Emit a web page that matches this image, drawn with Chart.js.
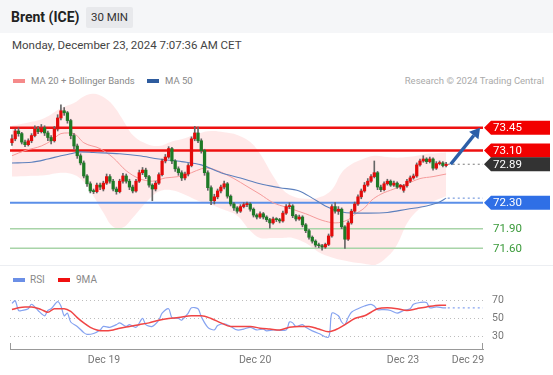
<!DOCTYPE html>
<html>
<head>
<meta charset="utf-8">
<script src="https://cdn.jsdelivr.net/npm/chart.js@4.4.1/dist/chart.umd.min.js"></script>
<style>
body{margin:0;background:#fff;font-family:Roboto,Arial,sans-serif;}
#card{position:relative;width:553px;height:375px;overflow:hidden;background:#fff;}
#head{position:absolute;left:0;top:0;width:553px;height:33px;background:#f5f6f8;}
.t{position:absolute;white-space:nowrap;}
.sw{position:absolute;width:12px;height:4px;}
#sep{position:absolute;left:0;top:265px;width:553px;height:1px;background:#eceef2;}
#main{position:absolute;left:0;top:90px;}
#rsi{position:absolute;left:0;top:265px;}
</style>
</head>
<body>
<div id="card">
  <div id="head"></div>
  <div class="t" style="left:11px;top:9px;font-size:14px;line-height:17px;font-weight:bold;color:#222;">Brent (ICE)</div>
  <div class="t" style="left:86px;top:7px;width:47px;height:21px;line-height:21px;text-align:center;background:#e8e9ec;font-size:11.5px;color:#333;border-radius:2px;">30 MIN</div>
  <div class="t" style="left:12px;top:38px;font-size:11.5px;line-height:14px;color:#444;">Monday, December 23, 2024 7:07:36 AM CET</div>

  <div class="sw" style="left:13px;top:79px;background:#f58a8a;"></div>
  <div class="t" style="left:31px;top:75px;font-size:9.5px;line-height:12px;color:#888;">MA 20 + Bollinger Bands</div>
  <div class="sw" style="left:147px;top:79px;background:#2e5c9e;"></div>
  <div class="t" style="left:165px;top:75px;font-size:9.5px;line-height:12px;color:#888;">MA 50</div>
  <div class="t" style="right:9px;top:75px;font-size:9.5px;line-height:12px;color:#aaa;">Research © 2024 Trading Central</div>

  <div id="sep"></div>
  <div class="sw" style="left:13px;top:278px;background:#6b8fe6;"></div>
  <div class="t" style="left:30px;top:274px;font-size:10px;line-height:12px;color:#888;">RSI</div>
  <div class="sw" style="left:58px;top:278px;background:#f01010;"></div>
  <div class="t" style="left:76px;top:274px;font-size:10px;line-height:12px;color:#888;">9MA</div>

  <canvas id="main" width="553" height="175"></canvas>
  <canvas id="rsi" width="553" height="110"></canvas>
</div>
<script>
// 30 min candles, Dec 18 -> Dec 23
const opens = [
  73.22,73.28,73.40,73.36,73.23,73.19,73.25,73.33,73.43,73.39,
  73.45,73.37,73.30,73.25,73.43,73.60,73.71,73.68,73.56,73.33,
  73.17,73.02,72.91,72.71,72.59,72.48,72.47,72.57,72.51,72.60,
  72.70,72.63,72.51,72.47,72.63,72.71,72.63,72.54,72.48,72.63,
  72.76,72.80,72.70,72.57,72.51,72.60,72.73,72.94,73.00,73.13,
  72.94,72.82,72.76,72.68,72.74,72.87,73.28,73.37,73.25,73.10,
  72.76,72.53,72.33,72.39,72.48,72.54,72.59,72.40,72.28,72.22,
  72.17,72.24,72.27,72.28,72.20,72.11,72.08,72.13,72.08,72.04,
  71.99,72.05,72.04,72.02,72.14,72.24,72.25,72.10,72.05,72.08,
  71.96,71.87,71.77,71.71,71.65,71.64,71.62,71.66,71.79,72.24,
  72.17,72.20,71.93,71.74,71.99,72.17,72.28,72.39,72.48,72.57,
  72.63,72.70,72.76,72.54,72.50,72.59,72.63,72.57,72.60,72.54,
  72.49,72.56,72.63,72.68,72.71,72.88,72.94,72.97,72.93,72.97,
  72.83,72.90,72.91,72.87];
const closes = [
  73.28,73.40,73.36,73.23,73.19,73.25,73.33,73.43,73.39,73.45,
  73.37,73.30,73.25,73.43,73.60,73.71,73.68,73.56,73.33,73.17,
  73.02,72.91,72.71,72.59,72.48,72.47,72.57,72.54,72.60,72.70,
  72.63,72.51,72.47,72.63,72.71,72.63,72.54,72.48,72.63,72.76,
  72.80,72.70,72.57,72.51,72.60,72.73,72.94,73.00,73.13,72.94,
  72.82,72.76,72.68,72.74,72.87,73.28,73.37,73.25,73.10,72.76,
  72.53,72.33,72.39,72.48,72.54,72.59,72.40,72.28,72.22,72.17,
  72.24,72.27,72.28,72.20,72.11,72.08,72.13,72.08,72.04,71.99,
  72.05,72.04,72.02,72.14,72.24,72.25,72.10,72.05,72.08,71.96,
  71.87,71.77,71.71,71.65,71.64,71.62,71.66,71.79,72.24,72.17,
  72.20,71.93,71.74,71.99,72.17,72.28,72.39,72.48,72.57,72.63,
  72.70,72.76,72.54,72.50,72.59,72.63,72.57,72.60,72.54,72.57,
  72.56,72.63,72.68,72.71,72.88,72.94,72.97,72.93,72.97,72.83,
  72.90,72.91,72.87,72.89];
const highs = [
  73.34,73.43,73.45,73.38,73.26,73.28,73.36,73.48,73.47,73.50,
  73.48,73.40,73.33,73.47,73.65,73.80,73.76,73.70,73.58,73.36,
  73.20,73.05,72.94,72.73,72.62,72.51,72.60,72.60,72.63,72.74,
  72.73,72.66,72.54,72.66,72.75,72.74,72.66,72.57,72.66,72.80,
  72.84,72.83,72.72,72.59,72.63,72.76,72.97,73.04,73.16,73.15,
  72.96,72.85,72.79,72.77,72.90,73.31,73.47,73.46,73.28,73.12,
  72.79,72.56,72.43,72.51,72.57,72.63,72.61,72.42,72.30,72.24,
  72.27,72.30,72.31,72.30,72.22,72.13,72.16,72.15,72.10,72.06,
  72.08,72.07,72.06,72.17,72.27,72.30,72.27,72.12,72.11,72.10,
  71.98,71.89,71.79,71.73,71.68,71.66,71.68,71.82,72.27,72.30,
  72.24,72.22,71.95,72.02,72.20,72.31,72.42,72.51,72.61,72.67,
  72.73,72.94,72.78,72.57,72.62,72.66,72.65,72.63,72.62,72.58,
  72.58,72.66,72.71,72.74,72.91,72.97,73.02,72.99,73.00,72.99,
  72.93,72.94,72.93,72.92];
const lows = [
  73.18,73.25,73.32,73.20,73.16,73.17,73.22,73.31,73.36,73.37,
  73.33,73.25,73.20,73.23,73.40,73.57,73.64,73.52,73.28,73.12,
  72.98,72.88,72.68,72.55,72.45,72.44,72.45,72.50,72.48,72.58,
  72.60,72.48,72.43,72.45,72.60,72.60,72.50,72.45,72.46,72.61,
  72.73,72.67,72.54,72.33,72.48,72.58,72.71,72.91,72.98,72.90,
  72.78,72.72,72.64,72.65,72.71,72.85,73.25,73.22,73.06,72.72,
  72.49,72.27,72.28,72.36,72.45,72.51,72.37,72.25,72.18,72.14,
  72.15,72.22,72.24,72.17,72.08,72.05,72.06,72.05,72.01,71.91,
  71.97,72.01,71.99,72.00,72.12,72.21,72.07,72.02,72.03,71.93,
  71.84,71.74,71.68,71.62,71.61,71.57,71.60,71.64,71.77,72.14,
  72.12,71.90,71.60,71.72,71.97,72.15,72.26,72.36,72.46,72.55,
  72.61,72.68,72.50,72.47,72.48,72.57,72.55,72.55,72.52,72.51,
  72.46,72.54,72.61,72.66,72.69,72.86,72.92,72.90,72.91,72.80,
  72.81,72.88,72.85,72.85];

// moving averages (bar index, value)
const ma20Idx = [0,4,9,12,15,17,19,22,27,31,35,39,43,47,51,55,58,60,63,68,72,76,80,84,90,95,99,103,105,108,110,113,117,121,125,129,133];
const ma20Val = [73.02,73.10,73.17,73.25,73.36,73.37,73.36,73.22,73.13,72.99,72.79,72.67,72.63,72.68,72.70,72.76,72.82,72.83,72.79,72.67,72.55,72.43,72.30,72.23,72.13,72.03,71.99,72.04,72.12,72.22,72.33,72.43,72.51,72.59,72.67,72.70,72.74];
const ma50Idx = [0,6,11,15,18,21,25,33,39,45,52,58,64,70,76,82,88,92,96,100,105,109,115,121,127,131,133];
const ma50Val = [72.91,72.92,72.97,73.02,73.05,73.08,73.07,73.05,73.02,72.97,72.93,72.88,72.76,72.68,72.59,72.53,72.48,72.37,72.25,72.17,72.14,72.14,72.15,72.20,72.25,72.31,72.37];
const bandIdx = [0,5,10,15,19,22,25,28,31,34,37,41,45,49,53,57,61,65,69,73,76,80,83,86,90,94,98,101,104,107,111,115,118,121,124,127,130,133];
const bandUpper = [73.48,73.53,73.60,73.75,73.83,73.93,73.97,73.92,73.79,73.57,73.34,73.21,73.17,73.24,73.29,73.36,73.40,73.38,73.34,73.23,73.05,72.71,72.50,72.40,72.36,72.38,72.50,72.76,72.89,72.96,73.02,73.00,72.99,73.00,73.02,73.05,73.06,73.07];
const bandLower = [72.70,72.71,72.72,72.76,72.73,72.62,72.40,72.15,71.93,71.92,72.07,72.30,72.47,72.49,72.42,72.33,72.27,72.19,72.10,71.87,71.76,71.76,71.76,71.76,71.68,71.54,71.46,71.42,71.39,71.37,71.34,71.47,71.66,71.98,72.17,72.27,72.34,72.40];

// RSI panel
const rsiIdx = [0,1,2,3,5,6,8,10,11,12,14,15,16,17,18,20,22,23,25,27,28,30,32,33,35,36,38,40,41,43,45,46,48,49,51,52,54,55,57,58,60,62,63,65,67,69,71,73,75,77,78,80,84,85,86,87,89,90,92,94,97,98,100,101,102,103,104,106,108,110,111,112,114,116,118,120,122,123,125,127,128,130,132,133];
const rsiVal = [67,70,59,59,61,66,59,53,59,61,69,64,53,56,46,41,34,32,33,37,41,40,43,45,41,43,40,50,43,41,48,56,61,51,50,48,56,62,61,52,40,37,42,44,41,37,38,40,37,38,36,37,37,46,45,41,43,40,36,33,29,56,53,46,43,51,57,61,64,66,64,60,60,59,56,59,61,66,68,68,62,63,62,62];
const ma9Idx = [0,2,4,6,9,11,13,16,18,20,22,24,26,28,31,33,36,39,42,45,48,51,55,58,61,64,67,70,73,76,79,82,85,88,91,94,97,99,102,105,108,110,112,115,118,121,124,127,131,133];
const ma9Val = [60,62,63,63,60,57,61,61,58,51,45,40,37,36,37,39,41,43,45,48,50,51,53,53,50,45,41,41,41,39,38,37,40,41,41,38,35,37,43,50,53,57,61,62,61,59,61,63,65,65];

// key levels
const levels = [73.45, 73.10, 72.30, 71.90, 71.60];
const levelColors = ['#ee1111', '#ee1111', '#5b8fe8', '#a8d4a8', '#a8d4a8'];
const levelWidths = [2.5, 2.5, 2, 1.5, 1.5];
const tagFill = ['#f20000', '#f20000', '#333333', '#2f6fe6', null, null];
const tagText = ['#fff', '#fff', '#fff', '#fff', '#3a9a3a', '#3a9a3a'];
const target = 73.45;

// x axis labels
const tickIdx = [28.2, 74.5, 119.8, 139.7];
const tickLabels = ['Dec 19', 'Dec 20', 'Dec 23', 'Dec 29'];

const xMin = -0.6, xMax = 144.3;
const priceMin = 71.344, priceMax = 74.029;
const last = closes.length - 1;

const pts = (xs, ys) => xs.map((x, i) => ({x: x, y: ys[i]}));
const flat = (from, v) => [{x: from, y: v}, {x: xMax, y: v}];

let datasets = [
  {type: 'line', data: pts(bandIdx, bandUpper), borderWidth: 0, pointRadius: 0, tension: 0.4,
   fill: '+1', backgroundColor: 'rgba(255,70,70,0.12)', order: 20},
  {type: 'line', data: pts(bandIdx, bandLower), borderWidth: 0, pointRadius: 0, tension: 0.4,
   fill: false, order: 20}
];
levels.forEach((v, i) => {
  datasets.push({type: 'line', data: flat(xMin, v), borderColor: levelColors[i], borderWidth: levelWidths[i],
    pointRadius: 0, order: 15});
});
datasets.push(
  {type: 'line', data: pts(ma50Idx, ma50Val), borderColor: '#5d80bd', borderWidth: 1.1, pointRadius: 0,
   cubicInterpolationMode: 'monotone', order: 10},
  {type: 'line', data: pts(ma20Idx, ma20Val), borderColor: '#f59a9a', borderWidth: 1, pointRadius: 0,
   cubicInterpolationMode: 'monotone', order: 10},
  {type: 'line', data: flat(last + 0.5, closes[last]), borderColor: '#777', borderWidth: 1, borderDash: [2, 3],
   pointRadius: 0, order: 9},
  {type: 'line', data: flat(last + 0.5, ma50Val[ma50Val.length - 1]), borderColor: '#5b86d6', borderWidth: 1,
   borderDash: [2, 3], pointRadius: 0, order: 9},
  {type: 'bar', data: closes.map((c, i) => ({x: i, y: [lows[i], highs[i]]})), grouped: false,
   barThickness: 1, backgroundColor: '#666', order: 2},
  {type: 'bar', data: closes.map((c, i) => ({x: i, y: [opens[i], c]})), grouped: false,
   barThickness: 2.6, minBarLength: 1,
   backgroundColor: closes.map((c, i) => c >= opens[i] ? '#e30b0b' : '#1e7a26'), order: 1}
);

const tagPlugin = {
  id: 'tags',
  afterDraw(chart) {
    const {ctx, chartArea, scales: {x, y}} = chart;
    // projection arrow
    const x1 = x.getPixelForValue(last + 1.4), y1 = y.getPixelForValue(closes[last]);
    const x2 = x.getPixelForValue(xMax - 0.9), y2 = y.getPixelForValue(target);
    const ang = Math.atan2(y2 - y1, x2 - x1);
    const hl = 10, hw = 6;
    const bx = x2 - hl * Math.cos(ang), by = y2 - hl * Math.sin(ang);
    ctx.save();
    ctx.strokeStyle = '#2c5fa8';
    ctx.fillStyle = '#2c5fa8';
    ctx.lineWidth = 3.5;
    ctx.beginPath(); ctx.moveTo(x1, y1); ctx.lineTo(bx, by); ctx.stroke();
    ctx.beginPath();
    ctx.moveTo(x2, y2);
    ctx.lineTo(bx + hw * Math.sin(ang), by - hw * Math.cos(ang));
    ctx.lineTo(bx - hw * Math.sin(ang), by + hw * Math.cos(ang));
    ctx.closePath(); ctx.fill();

    const tagVals = [levels[0], levels[1], closes[last], levels[2], levels[3], levels[4]];
    const x0 = chartArea.right + 1;
    ctx.font = '11.5px Roboto, Arial, sans-serif';
    ctx.textBaseline = 'middle';
    tagVals.forEach((v, i) => {
      const py = y.getPixelForValue(v);
      if (tagFill[i]) {
        ctx.fillStyle = tagFill[i];
        ctx.beginPath();
        ctx.moveTo(x0, py);
        ctx.lineTo(x0 + 7, py - 7);
        ctx.lineTo(chart.width - 3, py - 7);
        ctx.lineTo(chart.width - 3, py + 7);
        ctx.lineTo(x0 + 7, py + 7);
        ctx.closePath(); ctx.fill();
      }
      ctx.fillStyle = tagText[i];
      ctx.fillText(v.toFixed(2), x0 + 9, py + 0.5);
    });
    ctx.restore();
  }
};

new Chart(document.getElementById('main'), {
  type: 'bar',
  data: {datasets: datasets},
  options: {
    responsive: false,
    animation: false,
    events: [],
    layout: {padding: {left: 10, right: 70, top: 0, bottom: 0}},
    plugins: {legend: {display: false}, tooltip: {enabled: false}},
    scales: {
      x: {type: 'linear', min: xMin, max: xMax, display: false, offset: false},
      y: {type: 'linear', min: priceMin, max: priceMax, display: false}
    }
  },
  plugins: [tagPlugin]
});

const bracketPlugin = {
  id: 'bracket',
  afterDraw(chart) {
    const {ctx, chartArea} = chart;
    ctx.save();
    ctx.strokeStyle = '#999';
    ctx.lineWidth = 1;
    [chartArea.left + 0.5, chartArea.right - 0.5].forEach(px => {
      ctx.beginPath(); ctx.moveTo(px, chartArea.bottom); ctx.lineTo(px, chartArea.bottom - 6); ctx.stroke();
    });
    ctx.restore();
  }
};

new Chart(document.getElementById('rsi'), {
  type: 'line',
  data: {datasets: [
    {data: pts(ma9Idx, ma9Val), borderColor: '#f04545', borderWidth: 1.5, pointRadius: 0, cubicInterpolationMode: 'monotone'},
    {data: pts(rsiIdx, rsiVal), borderColor: '#86a3f0', borderWidth: 1.2, pointRadius: 0, tension: 0.3},
    {data: flat(last + 0.5, rsiVal[rsiVal.length - 1]), borderColor: '#86a3f0', borderWidth: 1.2,
     borderDash: [2, 3], pointRadius: 0}
  ]},
  options: {
    responsive: false,
    animation: false,
    events: [],
    layout: {padding: {left: 10, right: 0, top: 26, bottom: 1}},
    plugins: {legend: {display: false}, tooltip: {enabled: false}},
    scales: {
      x: {
        type: 'linear', min: xMin, max: xMax,
        afterBuildTicks: axis => { axis.ticks = tickIdx.map(v => ({value: v})); },
        afterFit: axis => { axis.height = 25; },
        grid: {display: false, drawTicks: false},
        border: {display: true, color: '#999', width: 1},
        ticks: {autoSkip: false, maxRotation: 0, padding: 5, color: '#777',
          font: {family: 'Roboto', size: 10.5},
          callback: (v, i) => tickLabels[i]}
      },
      y: {
        type: 'linear', position: 'right', min: 15.5, max: 81,
        afterBuildTicks: axis => { axis.ticks = [30, 50, 70].map(v => ({value: v})); },
        afterFit: axis => { axis.width = 70; },
        grid: {color: '#bdbdbd', drawTicks: false},
        border: {display: false, dash: [1, 3]},
        ticks: {padding: 9, color: '#777', font: {family: 'Roboto', size: 10.5}}
      }
    }
  },
  plugins: [bracketPlugin]
});
</script>
</body>
</html>
